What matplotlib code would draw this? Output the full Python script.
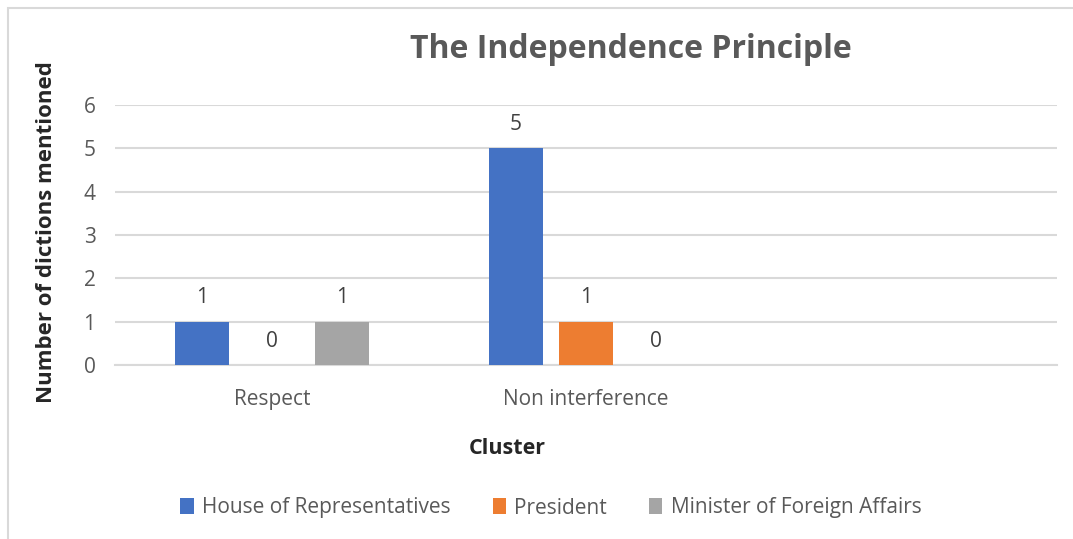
import matplotlib.pyplot as plt
import numpy as np
from matplotlib.patches import Rectangle

categories = ["Respect", "Non interference", ""]
series = ["House of Representatives", "President", "Minister of Foreign Affairs"]
house = [1, 5, None]
president = [0, 1, None]
minister = [1, 0, None]
colors = ["#4472C4", "#ED7D31", "#A5A5A5"]

plt.rcParams['font.family'] = ['Open Sans', 'DejaVu Sans']

fig = plt.figure(figsize=(10.73, 5.39), dpi=100)
ax = fig.add_axes([115 / 1073, 1 - 365 / 539, (1057 - 115) / 1073, 260 / 539])

x = np.arange(len(categories))
w = 0.172
step = 0.223
for i, (vals, name) in enumerate(zip([house, president, minister], series)):
    xs = [xi + (i - 1) * step for xi, v in zip(x, vals) if v is not None]
    vs = [v for v in vals if v is not None]
    bars = ax.bar(xs, vs, width=w, color=colors[i], label=name, zorder=3)
    for bx, v in zip(xs, vs):
        ax.text(bx, v + 0.31, str(v), ha='center', va='bottom', fontsize=15, color='#404040')

ax.set_xlim(-0.5, 2.5)
ax.set_ylim(0, 6)
ax.set_yticks(range(7))
ax.set_xticks(x)
ax.set_xticklabels(categories)
ax.tick_params(axis='both', length=0, labelsize=15, colors='#595959')
ax.tick_params(axis='x', pad=17)
ax.tick_params(axis='y', pad=14)
ax.grid(axis='y', color='#d9d9d9', linewidth=1.5, zorder=0)
for s in ['top', 'right', 'left']:
    ax.spines[s].set_visible(False)
ax.spines['bottom'].set_color('#d9d9d9')
ax.spines['bottom'].set_linewidth(1.5)

fig.text(631 / 1073, 1 - 50 / 539, "The Independence Principle", ha='center', va='center',
         fontsize=23, fontweight='bold', color='#595959')
fig.text(47 / 1073, 1 - 232 / 539, "Number of dictions mentioned", ha='center', va='center',
         rotation=90, fontsize=16, fontweight='bold', color='#262626')
fig.text(507 / 1073, 1 - 449 / 539, "Cluster", ha='center', va='center',
         fontsize=15.5, fontweight='bold', color='#262626')

leg = fig.legend(loc='center', bbox_to_anchor=(551 / 1073, 1 - 508 / 539), ncol=3, frameon=False,
                 fontsize=15, handlelength=0.65, handleheight=0.8, handletextpad=0.4, columnspacing=2.0)
for t in leg.get_texts():
    t.set_color('#595959')

fig.patches.append(Rectangle((8 / 1073, -0.1), 1.2, 1 - 8 / 539 + 0.1, transform=fig.transFigure,
                             fill=False, edgecolor='#d9d9d9', linewidth=1.5))

fig.savefig("out.png", dpi=100)
